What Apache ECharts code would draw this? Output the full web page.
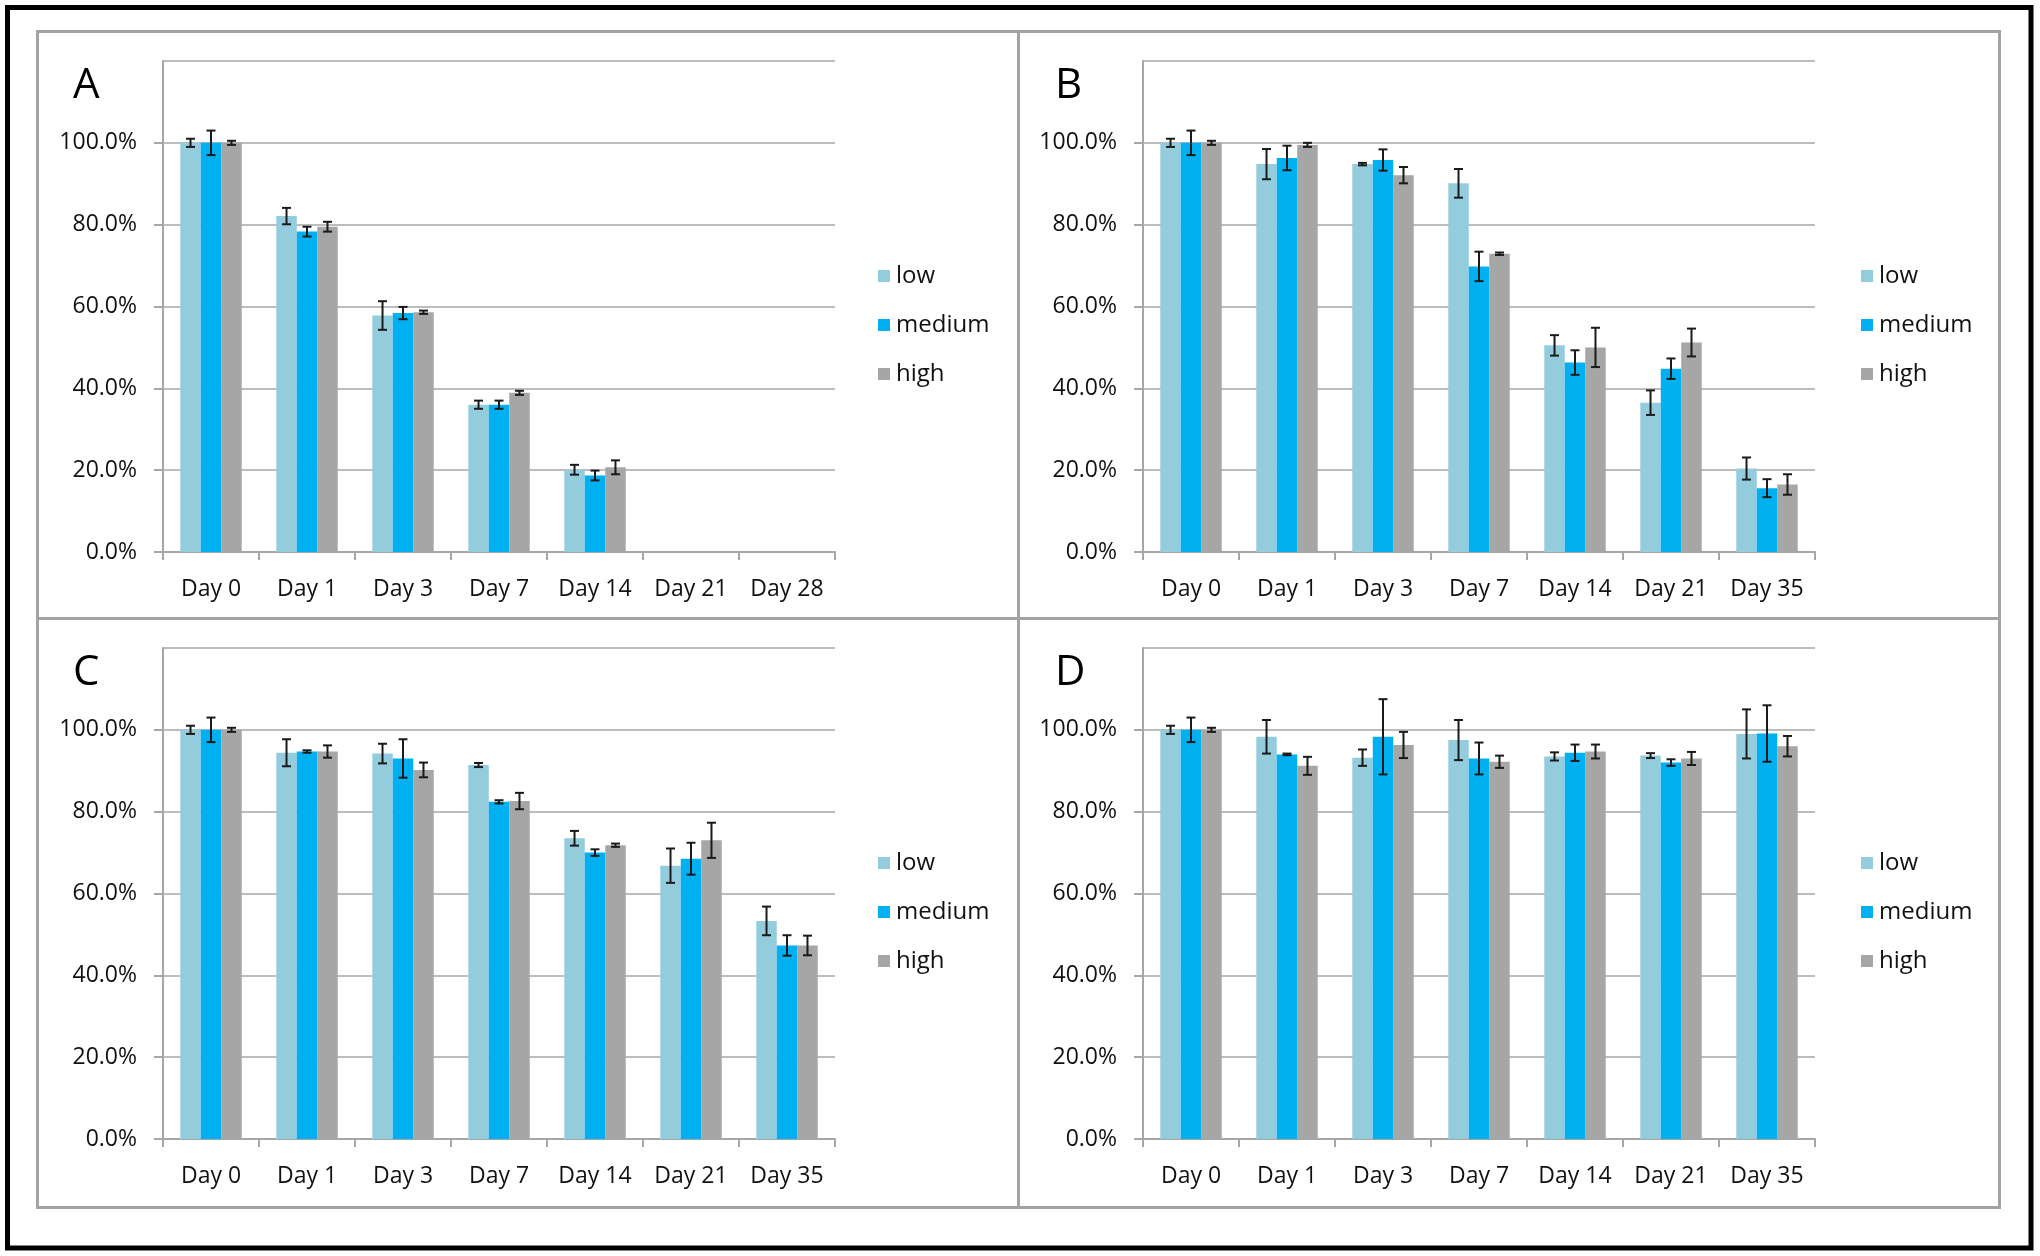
<!DOCTYPE html>
<html>
<head>
<meta charset="utf-8">
<script src="https://cdn.jsdelivr.net/npm/echarts@6/dist/echarts.min.js"></script>
<style>
html,body{margin:0;padding:0;background:#fff;}
#chart{width:2040px;height:1256px;}
</style>
</head>
<body>
<div id="chart"></div>
<script>
// ---------- DATA ----------
const categoriesA = ['Day 0','Day 1','Day 3','Day 7','Day 14','Day 21','Day 28'];
const categoriesBCD = ['Day 0','Day 1','Day 3','Day 7','Day 14','Day 21','Day 35'];
const seriesNames = ['low','medium','high'];
const panelLetters = ['A','B','C','D'];
const yTicks = [0, 20, 40, 60, 80, 100, 120];

// Panel A
const lowA  = [100, 82.1, 57.8, 36.0, 20.1, null, null];
const medA  = [100, 78.3, 58.4, 36.0, 18.7, null, null];
const highA = [100, 79.5, 58.6, 38.9, 20.7, null, null];
const errLowA  = [1.0, 2.0, 3.5, 1.0, 1.2, null, null];
const errMedA  = [3.0, 1.2, 1.5, 1.0, 1.2, null, null];
const errHighA = [0.5, 1.2, 0.4, 0.5, 1.7, null, null];

// Panel B
const lowB  = [100, 94.8, 94.8, 90.1, 50.5, 36.5, 20.4];
const medB  = [100, 96.3, 95.8, 69.8, 46.3, 44.8, 15.6];
const highB = [100, 99.5, 92.1, 72.9, 50.0, 51.2, 16.5];
const errLowB  = [1.0, 3.7, 0.3, 3.5, 2.5, 3.0, 2.7];
const errMedB  = [3.0, 3.0, 2.6, 3.6, 3.0, 2.5, 2.2];
const errHighB = [0.5, 0.5, 2.0, 0.3, 4.8, 3.4, 2.5];

// Panel C
const lowC  = [100, 94.4, 94.2, 91.4, 73.5, 66.8, 53.3];
const medC  = [100, 94.7, 93.0, 82.4, 70.0, 68.5, 47.3];
const highC = [100, 94.7, 90.2, 82.6, 71.8, 73.0, 47.3];
const errLowC  = [1.0, 3.3, 2.4, 0.5, 1.8, 4.2, 3.5];
const errMedC  = [3.0, 0.3, 4.7, 0.4, 0.8, 3.9, 2.5];
const errHighC = [0.5, 1.5, 1.8, 2.0, 0.4, 4.3, 2.4];

// Panel D
const lowD  = [100, 98.3, 93.2, 97.5, 93.5, 93.7, 99.0];
const medD  = [100, 94.0, 98.3, 93.0, 94.4, 92.0, 99.1];
const highD = [100, 91.2, 96.3, 92.2, 94.7, 93.0, 96.0];
const errLowD  = [1.0, 4.1, 2.0, 4.9, 1.0, 0.6, 6.0];
const errMedD  = [3.0, 0.2, 9.2, 3.9, 2.0, 0.8, 6.9];
const errHighD = [0.5, 2.2, 3.2, 1.5, 1.7, 1.6, 2.5];

// ---------- BUILD ----------
const panels = [
  {cats: categoriesA,   vals: [lowA, medA, highA], errs: [errLowA, errMedA, errHighA]},
  {cats: categoriesBCD, vals: [lowB, medB, highB], errs: [errLowB, errMedB, errHighB]},
  {cats: categoriesBCD, vals: [lowC, medC, highC], errs: [errLowC, errMedC, errHighC]},
  {cats: categoriesBCD, vals: [lowD, medD, highD], errs: [errLowD, errMedD, errHighD]}
];
const colors = ['#93CDDD', '#00B0F0', '#A6A6A6'];
const FONT = '"Open Sans", "Noto Sans", sans-serif';
const TXT = '#111';
const CAT_GAP = 0.36;

const gridPos = [
  {left: 163,  top: 61,  width: 672, height: 491},
  {left: 1143, top: 61,  width: 672, height: 491},
  {left: 163,  top: 648, width: 672, height: 491},
  {left: 1143, top: 648, width: 672, height: 491}
];
const legendPos = [
  {left: 878,  top: 264},
  {left: 1861, top: 264},
  {left: 878,  top: 851},
  {left: 1861, top: 851}
];
const letterPos = [
  {x: 73, y: 65}, {x: 1055, y: 65}, {x: 73, y: 652}, {x: 1055, y: 652}
];

function errRender(k) {
  return function (params, api) {
    const idx = api.value(0), v = api.value(1), e = api.value(2);
    if (isNaN(v) || isNaN(e)) return;
    const band = api.size([1, 0])[0];
    const bw = band * (1 - CAT_GAP) / 3;
    const x = api.coord([idx, v])[0] + (k - 1) * bw;
    const yT = api.coord([idx, v + e])[1];
    const yB = api.coord([idx, v - e])[1];
    const cap = 4.5;
    const st = {stroke: '#1a1a1a', lineWidth: 2};
    return {type: 'group', children: [
      {type: 'line', shape: {x1: x, y1: yT, x2: x, y2: yB}, style: st},
      {type: 'line', shape: {x1: x - cap, y1: yT, x2: x + cap, y2: yT}, style: st},
      {type: 'line', shape: {x1: x - cap, y1: yB, x2: x + cap, y2: yB}, style: st}
    ]};
  };
}

const grid = [], xAxis = [], yAxis = [], series = [], legend = [];
panels.forEach((p, g) => {
  grid.push(Object.assign({containLabel: false}, gridPos[g]));
  xAxis.push({
    type: 'category', gridIndex: g, data: p.cats,
    axisLine: {lineStyle: {color: '#a6a6a6', width: 2}},
    axisTick: {show: true, length: 8, lineStyle: {color: '#a6a6a6', width: 2}},
    axisLabel: {fontFamily: FONT, fontSize: 23, color: TXT, margin: 26}
  });
  yAxis.push({
    type: 'value', gridIndex: g, min: yTicks[0], max: yTicks[yTicks.length - 1], interval: 20,
    axisLine: {show: true, lineStyle: {color: '#a6a6a6', width: 2}},
    axisTick: {show: true, length: 9, lineStyle: {color: '#a6a6a6', width: 2}},
    splitLine: {lineStyle: {color: '#bdbdbd', width: 2}},
    axisLabel: {fontFamily: FONT, fontSize: 23, color: TXT, margin: 26,
      showMaxLabel: false, formatter: v => v.toFixed(1) + '%'}
  });
  p.vals.forEach((arr, k) => {
    series.push({
      type: 'bar', name: seriesNames[k], xAxisIndex: g, yAxisIndex: g,
      data: arr, barGap: '0%', barCategoryGap: (CAT_GAP * 100) + '%',
      itemStyle: {color: colors[k]}, z: 2, silent: true
    });
  });
  p.vals.forEach((arr, k) => {
    const d = [];
    arr.forEach((v, i) => { if (v != null && p.errs[k][i] != null) d.push([i, v, p.errs[k][i]]); });
    series.push({
      type: 'custom', xAxisIndex: g, yAxisIndex: g, data: d,
      encode: {x: 0, y: 1}, renderItem: errRender(k), z: 5, silent: true
    });
  });
  legend.push({
    data: seriesNames, orient: 'vertical', left: legendPos[g].left, top: legendPos[g].top,
    padding: 0, itemWidth: 12, itemHeight: 12, itemGap: 25, icon: 'rect',
    selectedMode: false,
    textStyle: {fontFamily: FONT, fontSize: 24, color: TXT, padding: [0, 0, 0, 1]}
  });
});

const graphic = [
  {type: 'rect', shape: {x: 7.5, y: 7.5, width: 2023.5, height: 1240.5},
   style: {fill: null, stroke: '#000', lineWidth: 5}, z: 0},
  {type: 'rect', shape: {x: 37.5, y: 31.5, width: 1962, height: 1176},
   style: {fill: null, stroke: '#a3a3a3', lineWidth: 3}, z: 0},
  {type: 'line', shape: {x1: 1018.5, y1: 31.5, x2: 1018.5, y2: 1207.5},
   style: {stroke: '#a3a3a3', lineWidth: 3}, z: 0},
  {type: 'line', shape: {x1: 37.5, y1: 618.5, x2: 1999.5, y2: 618.5},
   style: {stroke: '#a3a3a3', lineWidth: 3}, z: 0}
];
panelLetters.forEach((L, i) => {
  graphic.push({type: 'text', x: letterPos[i].x, y: letterPos[i].y,
    style: {text: L, font: '42px ' + FONT, fill: '#000', textVerticalAlign: 'top'}, z: 10});
});

const chart = echarts.init(document.getElementById('chart'), null, {renderer: 'canvas'});
chart.setOption({
  backgroundColor: '#fff',
  animation: false,
  grid, xAxis, yAxis, series, legend, graphic
});
</script>
</body>
</html>
